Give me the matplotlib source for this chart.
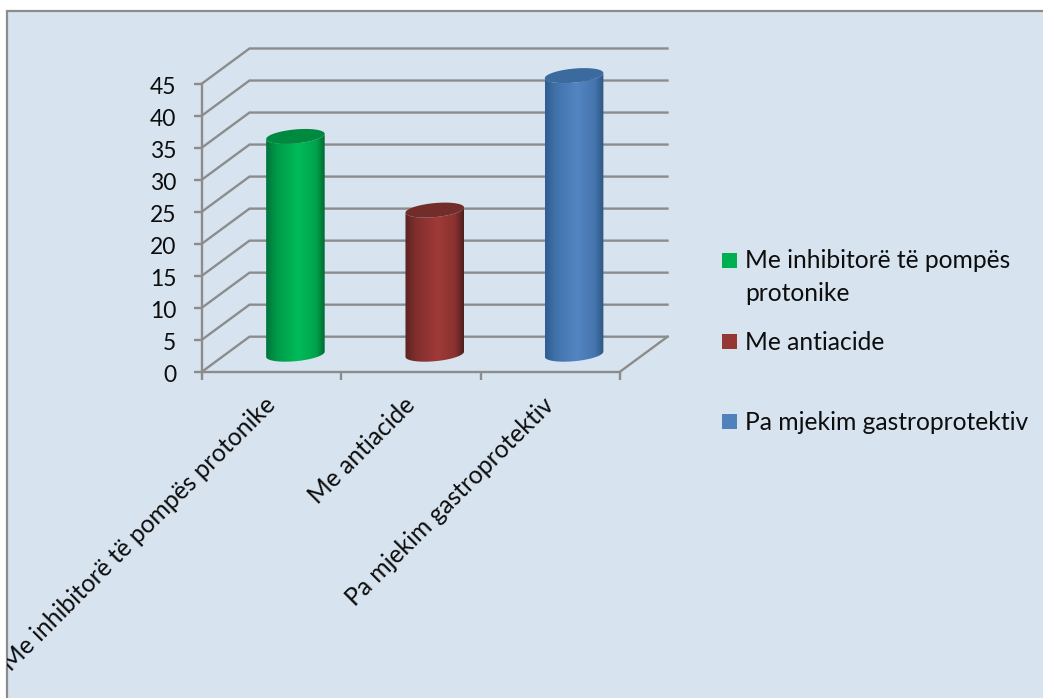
import numpy as np
from matplotlib import pyplot as plt
from matplotlib.colors import LinearSegmentedColormap
from matplotlib.patches import Polygon, Rectangle
from matplotlib.transforms import ScaledTranslation

plt.rcParams["font.family"] = ["Lato", "DejaVu Sans"]

# ----------------------------------------------------------------------
# DATA
# ----------------------------------------------------------------------
categories = [
    "Me inhibitorë të pompës protonike",
    "Me antiacide",
    "Pa mjekim gastroprotektiv",
]
values = [34, 22.5, 43.5]
y_ticks = [0, 5, 10, 15, 20, 25, 30, 35, 40, 45]

legend_labels = ["Me inhibitorë të pompës\nprotonike", "Me antiacide", "Pa mjekim gastroprotektiv"]
legend_colors = ["#00b050", "#953735", "#4f81bd"]
top_colors = ["#008a40", "#722d2b", "#3a6a9e"]
side_stops = [
    ["#00743a", "#009a49", "#00bb58", "#00a34d", "#006a33"],
    ["#5a2322", "#7f2f2d", "#a03a38", "#8a3230", "#4d1f1e"],
    ["#2f5c90", "#4272ab", "#5285c2", "#4674ad", "#2d5582"],
]
stop_positions = [0, 0.18, 0.55, 0.85, 1]

# ----------------------------------------------------------------------
# LAYOUT (pixels on a 1043x698 canvas)
# ----------------------------------------------------------------------
W, H = 1043, 698
PLOT_LEFT, PLOT_RIGHT = 202, 620
PLOT_TOP, PLOT_BOTTOM = 83.5, 371.7
BG = "#d7e3ef"
LINE = "#8c8c8c"
TEXT = "#0d0d0d"
FONT_SIZE = 17.7
TICK_FONT_SIZE = 16.5
LINE_WIDTH = 1.7

# Oblique depth of the 3D box, in data units
DEPTH_X = 47.5 / ((PLOT_RIGHT - PLOT_LEFT) / 3)
DEPTH_Y = 35 / ((PLOT_BOTTOM - PLOT_TOP) / 45)
# Cylinder radius along the category axis and along depth
RADIUS_X = 0.197
RADIUS_D = 0.214


def project(x, v, d):
    """Oblique projection of category x, value v and depth d into data units."""
    return x + d * DEPTH_X, v + d * DEPTH_Y


def px_x(x):
    return x / W


def px_y(y):
    return 1 - y / H


def cylinder_ring(center, v, t):
    return project(center + RADIUS_X * np.cos(t), v, 0.5 + RADIUS_D * np.sin(t))


def draw_cylinder(ax, center, v, stops, top_color):
    t = np.linspace(0, 2 * np.pi, 241)
    # angle at which the sheared ellipse reaches its right-hand extreme
    t0 = np.arctan2(RADIUS_D * DEPTH_X, RADIUS_X)
    lower = np.linspace(t0 - np.pi, t0, 120)
    bx, by = cylinder_ring(center, 0, lower)
    tx, ty = cylinder_ring(center, v, lower[::-1])
    outline = np.column_stack([np.r_[bx, tx], np.r_[by, ty]])
    side = Polygon(outline, closed=True, transform=ax.transData, fill=False, lw=0)
    ax.add_patch(side)
    side.set_clip_on(False)

    cmap = LinearSegmentedColormap.from_list("side", list(zip(stop_positions, stops)))
    im = ax.imshow(
        np.linspace(0, 1, 256)[None, :],
        cmap=cmap,
        extent=(outline[:, 0].min(), outline[:, 0].max(), outline[:, 1].min(), outline[:, 1].max()),
        aspect="auto",
        interpolation="bilinear",
        zorder=3,
    )
    im.set_clip_path(side)
    im.set_clip_box(ax.figure.bbox)

    cx, cy = cylinder_ring(center, v, t)
    ax.fill(cx, cy, color=top_color, lw=0, zorder=4, clip_on=False)


def main():
    fig = plt.figure(figsize=(W / 100, H / 100), dpi=100, facecolor="white")

    # Chart area runs off the right and bottom edges of the canvas
    area = Rectangle((px_x(6.5), px_y(H + 10)), (W + 10) / W, (H - 1) / H,
                     transform=fig.transFigure, facecolor=BG, edgecolor=LINE,
                     linewidth=1.6, zorder=-1)
    fig.add_artist(area)

    ax = fig.add_axes([px_x(PLOT_LEFT), px_y(PLOT_BOTTOM),
                       (PLOT_RIGHT - PLOT_LEFT) / W, (PLOT_BOTTOM - PLOT_TOP) / H])
    ax.patch.set_visible(False)
    for name in ("top", "right"):
        ax.spines[name].set_visible(False)
    for name in ("left", "bottom"):
        ax.spines[name].set_color(LINE)
        ax.spines[name].set_linewidth(LINE_WIDTH)

    # Walls of the box: back wall rules and the diagonals running to the axis
    for v in y_ticks:
        x0, y0 = project(0, v, 0)
        x1, y1 = project(0, v, 1)
        x2, y2 = project(3, v, 1)
        ax.plot([x0, x1, x2], [y0, y1, y2], color=LINE, lw=LINE_WIDTH, clip_on=False,
                solid_joinstyle="miter", zorder=1)
    x0, y0 = project(3, 0, 0)
    x1, y1 = project(3, 0, 1)
    ax.plot([x0, x1], [y0, y1], color=LINE, lw=LINE_WIDTH, clip_on=False, zorder=1)

    centers = np.arange(len(categories)) + 0.5
    for center, v, stops, top in zip(centers, values, side_stops, top_colors):
        draw_cylinder(ax, center, v, stops, top)

    ax.set_xlim(0, 3)
    ax.set_ylim(0, 45)
    ax.set_yticks(y_ticks)
    ax.tick_params(axis="y", length=5.8, width=LINE_WIDTH, color=LINE, pad=12.7,
                   labelsize=TICK_FONT_SIZE, labelcolor=TEXT)
    nudge_down = ScaledTranslation(0, -1.5 / 100, fig.dpi_scale_trans)
    for label in ax.get_yticklabels():
        label.set_transform(label.get_transform() + nudge_down)

    ax.set_xticks([0, 1, 2, 3])
    ax.set_xticklabels([])
    ax.tick_params(axis="x", which="major", length=6, width=LINE_WIDTH, color=LINE)
    ax.set_xticks(centers, minor=True)
    ax.set_xticklabels(categories, minor=True, rotation=45, ha="right", va="top",
                       rotation_mode="anchor", fontsize=FONT_SIZE, color=TEXT)
    ax.tick_params(axis="x", which="minor", length=0, pad=11)
    # category labels sit a little left of the slot centre and are cut by the frame
    nudge_left = ScaledTranslation(-8 / 100, -6 / 100, fig.dpi_scale_trans)
    for label in ax.get_xticklabels(minor=True):
        label.set_transform(label.get_transform() + nudge_left)
        label.set_clip_path(area)
        label.set_clip_on(True)

    # Legend keeps uneven row spacing, so it is laid out by hand
    swatch_tops = [253, 334, 414]
    text_tops = [261, 342, 423]
    for top, text_y, color, label in zip(swatch_tops, text_tops, legend_colors, legend_labels):
        fig.add_artist(Rectangle((px_x(722), px_y(top + 15)), 15 / W, 15 / H,
                                 transform=fig.transFigure, facecolor=color, edgecolor="none"))
        for i, line in enumerate(label.split("\n")):
            fig.text(px_x(745), px_y(text_y + 32.5 * i), line, fontsize=FONT_SIZE, color=TEXT,
                     ha="left", va="center")

    fig.savefig("out.png", dpi=100)


if __name__ == "__main__":
    main()
